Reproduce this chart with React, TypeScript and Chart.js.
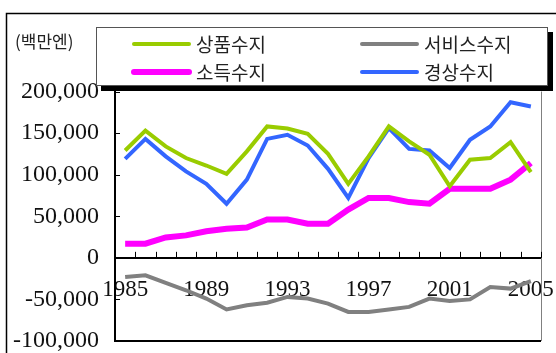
import React, { useEffect, useRef } from 'react';
import { Chart, registerables } from 'chart.js';

Chart.register(...registerables);

const years = [
  '1985', '1986', '1987', '1988', '1989', '1990', '1991', '1992', '1993', '1994', '1995',
  '1996', '1997', '1998', '1999', '2000', '2001', '2002', '2003', '2004', '2005',
];
const labeledYears = ['1985', '1989', '1993', '1997', '2001', '2005'];
const yTickValues = [-100000, -50000, 0, 50000, 100000, 150000, 200000];

const seriesNames = ['상품수지', '서비스수지', '소득수지', '경상수지'];
const unitLabel = '(백만엔)';

// 상품수지 (goods balance)
const goodsBalance = [
  129000, 153000, 134000, 120000, 111000, 101000, 128000, 158000, 155500, 149000, 125000,
  89000, 122000, 158000, 140000, 124000, 86000, 118000, 120000, 139000, 103000,
];
// 서비스수지 (services balance)
const servicesBalance = [
  -23000, -21000, -30000, -39000, -49000, -62000, -57000, -54000, -47000, -49000, -55000,
  -65000, -65000, -62000, -59000, -49000, -52000, -50000, -35000, -37000, -28000,
];
// 소득수지 (income balance)
const incomeBalance = [
  17000, 17000, 24500, 27000, 32000, 35000, 36500, 46000, 46000, 41000, 41000,
  58000, 72000, 72000, 67000, 65000, 83000, 83000, 83000, 94000, 114000,
];
// 경상수지 (current account balance)
const currentBalance = [
  119000, 143000, 122000, 104000, 89000, 65000, 94000, 143000, 148000, 135000, 107000,
  72000, 120000, 156000, 131000, 129000, 108000, 142000, 158000, 187000, 182000,
];

const seriesColors = ['#99CC00', '#808080', '#FF00FF', '#3366FF'];
const seriesWidths = [4, 4, 6, 4];

const decorPlugin = {
  id: 'decor',
  beforeDraw(chart: any) {
    const ctx = chart.ctx;
    ctx.save();
    ctx.fillStyle = '#ffffff';
    ctx.fillRect(0, 0, chart.width, chart.height);
    // outer frame
    ctx.strokeStyle = '#000';
    ctx.lineWidth = 1.5;
    ctx.beginPath();
    ctx.moveTo(6.5, chart.height);
    ctx.lineTo(6.5, 13.5);
    ctx.lineTo(chart.width, 13.5);
    ctx.stroke();
    ctx.restore();
  },
  afterDraw(chart: any) {
    const ctx = chart.ctx;
    const area = chart.chartArea;
    const xs = chart.scales.x;
    const ys = chart.scales.y;
    ctx.save();

    // plot frame: bottom and right
    ctx.strokeStyle = '#000';
    ctx.lineWidth = 2;
    ctx.beginPath();
    ctx.moveTo(area.left, area.bottom);
    ctx.lineTo(area.right, area.bottom);
    ctx.stroke();
    ctx.strokeStyle = '#808080';
    ctx.lineWidth = 1;
    ctx.beginPath();
    ctx.moveTo(Math.round(area.right) + 0.5, area.top);
    ctx.lineTo(Math.round(area.right) + 0.5, area.bottom);
    ctx.stroke();

    // y tick marks (inside)
    ctx.strokeStyle = '#000';
    ctx.lineWidth = 1;
    ys.ticks.forEach((t: any) => {
      const py = Math.round(ys.getPixelForValue(t.value)) + 0.5;
      ctx.beginPath();
      ctx.moveTo(area.left, py);
      ctx.lineTo(area.left + 5, py);
      ctx.stroke();
    });

    // x tick marks (upward from zero line, at category boundaries)
    const y0 = ys.getPixelForValue(0);
    const n = years.length;
    const half = (xs.getPixelForValue(1) - xs.getPixelForValue(0)) / 2;
    for (let i = 0; i <= n; i++) {
      const px = Math.round((i < n ? xs.getPixelForValue(i) - half : xs.getPixelForValue(n - 1) + half)) + 0.5;
      ctx.beginPath();
      ctx.moveTo(px, y0);
      ctx.lineTo(px, y0 - 6);
      ctx.stroke();
    }

    // unit label
    ctx.fillStyle = '#222';
    ctx.font = '17px "Noto Sans CJK KR"';
    ctx.textAlign = 'left';
    ctx.textBaseline = 'middle';
    ctx.fillText(unitLabel, 15, 42);

    // legend box with shadow
    const bx = 96, by = 27, bw = 452, bh = 59, sh = 5;
    ctx.fillStyle = '#000';
    ctx.fillRect(bx + sh, by + sh, bw, bh);
    ctx.fillStyle = '#fff';
    ctx.fillRect(bx, by, bw, bh);
    ctx.strokeStyle = '#555';
    ctx.lineWidth = 1;
    ctx.strokeRect(bx + 0.5, by + 0.5, bw - 1, bh - 1);

    const colX = [134, 362];
    const rowY = [44, 72];
    chart.data.datasets.forEach((ds: any, i: number) => {
      const cx = colX[i % 2];
      const cy = rowY[Math.floor(i / 2)];
      ctx.strokeStyle = ds.borderColor;
      ctx.lineWidth = ds.borderWidth;
      ctx.lineCap = 'round';
      ctx.beginPath();
      ctx.moveTo(cx, cy);
      ctx.lineTo(cx + 55, cy);
      ctx.stroke();
      ctx.fillStyle = '#222';
      ctx.font = '19px "Noto Sans CJK KR"';
      ctx.textBaseline = 'middle';
      ctx.fillText(ds.label, cx + 62, cy + 1);
    });

    ctx.restore();
  },
};

export default function App() {
  const canvasRef = useRef<HTMLCanvasElement | null>(null);

  useEffect(() => {
    document.body.style.margin = '0';
    const canvas = canvasRef.current;
    if (!canvas) return;
    const values = [goodsBalance, servicesBalance, incomeBalance, currentBalance];
    const chart = new Chart(canvas, {
      type: 'line',
      data: {
        labels: years,
        datasets: values.map((data, i) => ({
          label: seriesNames[i],
          data,
          borderColor: seriesColors[i],
          backgroundColor: seriesColors[i],
          borderWidth: seriesWidths[i],
          pointRadius: 0,
          tension: 0,
          fill: false,
        })),
      },
      options: {
        responsive: false,
        animation: false,
        devicePixelRatio: 1,
        layout: { padding: { top: 91.5, bottom: 12, left: 0, right: 15 } },
        plugins: {
          legend: { display: false },
          tooltip: { enabled: false },
        },
        scales: {
          x: {
            type: 'category',
            position: { y: 0 } as any,
            offset: true,
            grid: { display: false, drawTicks: true, tickLength: 21 },
            border: { display: true, color: '#000', width: 2 },
            ticks: {
              autoSkip: false,
              maxRotation: 0,
              minRotation: 0,
              padding: 0,
              color: '#111',
              font: { family: '"Liberation Serif"', size: 23, lineHeight: 1 },
              callback: (_v: any, idx: number) =>
                labeledYears.includes(years[idx]) ? years[idx] : '',
            },
          },
          y: {
            position: 'left',
            min: -100000,
            max: 200000,
            grid: { display: false, drawTicks: true, tickLength: 16 },
            border: { display: true, color: '#000', width: 2 },
            afterBuildTicks: (scale: any) => {
              scale.ticks = yTickValues.map((v) => ({ value: v }));
            },
            afterFit: (scale: any) => {
              scale.width = 115;
            },
            ticks: {
              padding: 0,
              color: '#111',
              font: { family: '"Liberation Serif"', size: 24, lineHeight: 1 },
              callback: (v: any) => Number(v).toLocaleString('en-US'),
            },
          },
        },
      },
      plugins: [decorPlugin],
    });
    return () => chart.destroy();
  }, []);

  return (
    <canvas
      ref={canvasRef}
      width={556}
      height={353}
      style={{ display: 'block', width: 556, height: 353 }}
    />
  );
}
